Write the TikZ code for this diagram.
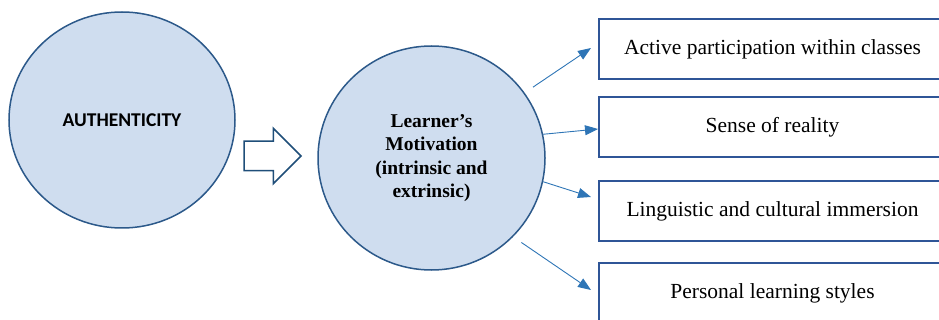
\documentclass[tikz,border=0pt]{standalone}
\usepackage{fontspec}
\setmainfont{Liberation Serif}
\newfontfamily\calibfont{Carlito}
\usetikzlibrary{shapes.geometric, shapes.arrows, arrows.meta, calc}
\definecolor{CircleFill}{RGB}{207,221,239}
\definecolor{CircleEdge}{RGB}{44,89,138}
\definecolor{BoxEdge}{RGB}{47,85,151}
\definecolor{LinkBlue}{RGB}{46,117,182}
\definecolor{FlowEdge}{RGB}{31,78,121}

\begin{document}
\begin{tikzpicture}[x=1pt, y=-1pt,
    bigcircle/.style={ellipse, fill=CircleFill, draw=CircleEdge, line width=1.5pt, inner sep=0pt},
    itembox/.style={rectangle, draw=BoxEdge, line width=2pt, minimum width=347pt,
                    minimum height=60pt, font=\fontsize{21.5}{24}\selectfont},
    link/.style={LinkBlue, line width=0.9pt, -{Triangle[length=13pt,width=10pt]}}]
    \useasboundingbox (0,0) rectangle (939,320);
    \clip (0,0) rectangle (939,320);

    % Source circle
    \node[bigcircle, minimum width=226pt, minimum height=216pt,
          font=\calibfont\bfseries\fontsize{19.5}{23}\selectfont] (auth) at (122,120) {AUTHENTICITY};

    % Block arrow between the circles
    \node[single arrow, draw=FlowEdge, fill=white, line width=1.5pt, minimum height=57pt,
          inner xsep=0pt, inner ysep=14pt, outer sep=0pt, single arrow head extend=13pt,
          anchor=tip] (flow) at (301,156) {};

    % Motivation circle
    \node[bigcircle, minimum width=227pt, minimum height=224pt, align=center,
          font=\bfseries\fontsize{19.5}{23.5}\selectfont] (motiv) at (431.5,158)
          {Learner’s\\Motivation\\(intrinsic and\\extrinsic)};

    % Outcome boxes
    \foreach \y/\t [count=\i] in {49/Active participation within classes, 127/Sense of reality,
                                  211/Linguistic and cultural immersion, 293/Personal learning styles} {
        \node[itembox] (b\i) at (772.5,\y) {\t};
    }

    % Links from motivation to the boxes
    \draw[link, shorten <=10pt] (motiv.35) -- ($(b1.west)+(-7,-1)$);
    \draw[link] (motiv.12) -- ($(b2.west)+(0,2)$);
    \draw[link] (motiv.-12) -- ($(b3.west)+(-7,-14)$);
    \draw[link, shorten <=10pt] (motiv.-44) -- ($(b4.west)+(-7,-3)$);
\end{tikzpicture}
\end{document}
